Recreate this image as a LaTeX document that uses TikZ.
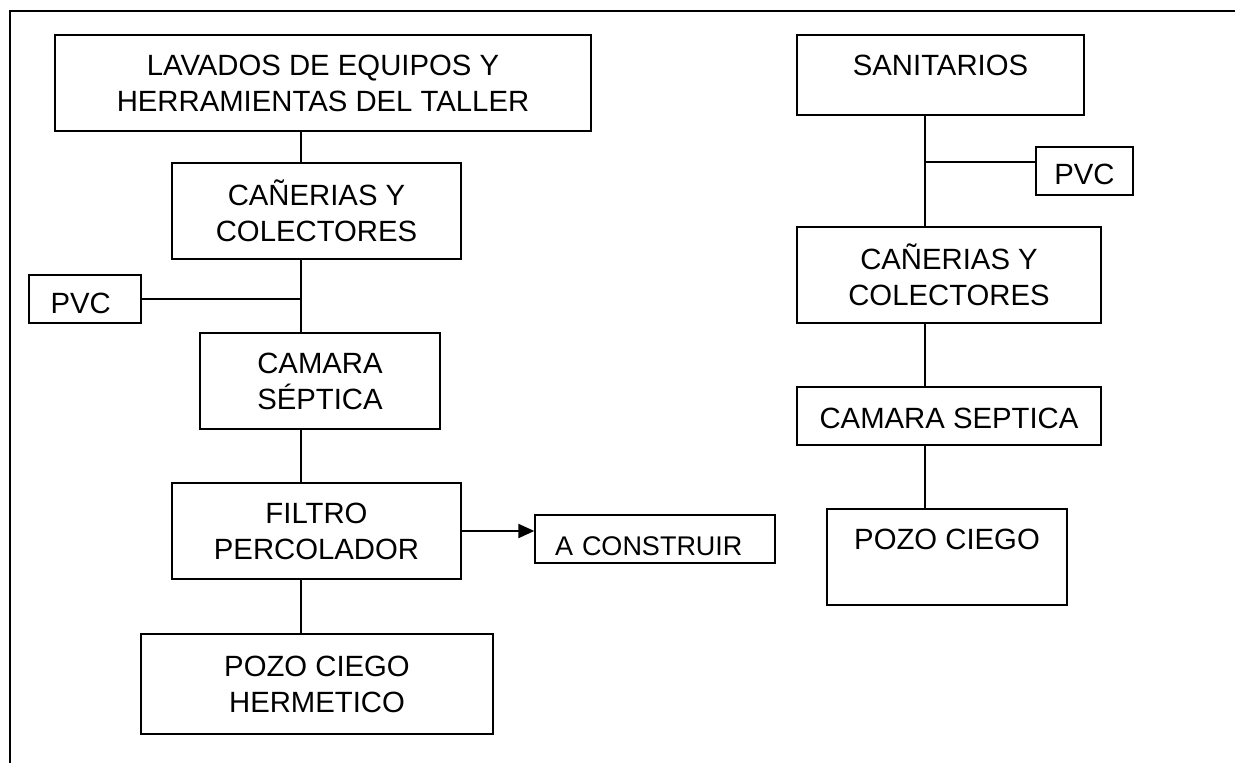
\documentclass[tikz,border=0pt]{standalone}
\usepackage{fontspec}
\setmainfont{Liberation Sans}
\usetikzlibrary{arrows.meta}
\begin{document}
\begin{tikzpicture}[x=1pt,y=-1pt,
  box/.style={draw=black, line width=1.3pt, inner sep=0pt, align=center,
    font=\fontsize{29.3pt}{36pt}\selectfont},
  leftbox/.style={box, align=left, text width=#1},
  link/.style={line width=1.3pt},
  flowarrow/.style={line width=2pt, -{Triangle[length=16pt,width=14pt]}},
  frame/.style={line width=2pt}]
\useasboundingbox (0,0) rectangle (1235,763);
\draw[frame] (10,763) -- (10,10.5) -- (1235,10.5);
% left column
\node[box, minimum width=536pt, minimum height=96pt] (lav) at (323,83) {LAVADOS DE EQUIPOS Y\\HERRAMIENTAS DEL TALLER};
\node[box, minimum width=289pt, minimum height=96pt] (can1) at (316.5,211) {CAÑERIAS Y\\COLECTORES};
\node[leftbox=69pt, minimum width=112pt, minimum height=48pt, text height=35pt, text depth=7pt] (pvc1) at (85,299) {PVC};
\node[box, minimum width=240pt, minimum height=96pt] (cam1) at (320,381) {CAMARA\\SÉPTICA};
\node[box, minimum width=289pt, minimum height=96pt] (fil) at (316.5,531) {FILTRO\\PERCOLADOR};
\node[leftbox=200pt, minimum width=240pt, minimum height=48pt, text height=37pt, text depth=5pt, font=\fontsize{27pt}{32pt}\selectfont] (con) at (655,539) {A CONSTRUIR};
\node[box, minimum width=352pt, minimum height=100pt] (poz1) at (317,684) {POZO CIEGO\\HERMETICO};
% right column
\node[box, minimum width=287pt, minimum height=80pt, text height=21pt, text depth=21pt] (san) at (940.5,75) {SANITARIOS};
\node[box, minimum width=97pt, minimum height=48pt, text height=33pt, text depth=7pt] (pvc2) at (1084.5,171) {PVC};
\node[box, minimum width=304pt, minimum height=96pt] (can2) at (949,275) {CAÑERIAS Y\\COLECTORES};
\node[box, minimum width=304pt, minimum height=58pt, text height=24pt, text depth=0pt] (cam2) at (949,416) {CAMARA SEPTICA};
\node[box, minimum width=240pt, minimum height=96pt, text height=21pt, text depth=37pt] (poz2) at (947,557) {POZO CIEGO};
% trunk positions
\coordinate (lx) at (301,0);
\coordinate (rx) at (925,0);
\coordinate (pj) at (925,162);
% left connectors
\draw[link] (lav.south -| lx) -- (can1.north -| lx);
\draw[link] (can1.south -| lx) -- (cam1.north -| lx);
\draw[link] (pvc1.east) -- (pvc1.east -| lx);
\draw[link] (cam1.south -| lx) -- (fil.north -| lx);
\draw[link] (fil.south -| lx) -- (poz1.north -| lx);
\draw[flowarrow] (fil.east) -- (fil.east -| con.west);
% right connectors
\draw[link] (san.south -| rx) -- (can2.north -| rx);
\draw[link] (pj) -- (pj -| pvc2.west);
\draw[link] (can2.south -| rx) -- (cam2.north -| rx);
\draw[link] (cam2.south -| rx) -- (poz2.north -| rx);
\end{tikzpicture}
\end{document}
